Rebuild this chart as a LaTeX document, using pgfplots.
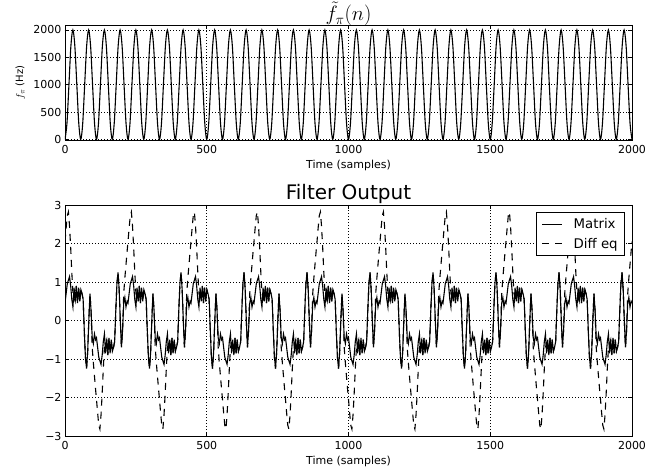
\documentclass[border=0pt]{standalone}
\usepackage{fontspec}
\setmainfont{DejaVu Sans}
\usepackage{pgfplots}
\usepackage{pgfplotstable}
\pgfplotsset{compat=1.18}
\begin{document}
\pgfplotstableread{
n m d
0 0.45 2.05
4 0.70 2.40
8 0.95 2.72
12 1.05 2.82
16 1.14 2.45
20 0.90 1.90
24 0.55 1.25
28 0.35 0.70
32 0.85 0.60
36 0.50 0.50
40 0.90 0.90
44 0.45 0.45
48 0.85 0.85
52 0.50 0.50
56 0.80 0.80
60 0.70 0.70
64 0.55 0.55
68 -0.25 -0.25
72 -0.95 -0.95
76 -1.25 -1.25
80 -0.80 -0.80
84 0.00 0.00
88 0.70 0.70
92 0.25 0.25
96 -0.45 -0.70
100 -0.60 -1.10
104 -0.35 -1.45
108 -0.50 -1.80
111.1 -0.45 -2.05
115.1 -0.70 -2.40
119.1 -0.95 -2.72
123.1 -1.05 -2.82
127.1 -1.14 -2.45
131.1 -0.90 -1.90
135.1 -0.55 -1.25
139.1 -0.35 -0.70
143.1 -0.85 -0.60
147.1 -0.50 -0.50
151.1 -0.90 -0.90
155.1 -0.45 -0.45
159.1 -0.85 -0.85
163.1 -0.50 -0.50
167.1 -0.80 -0.80
171.1 -0.70 -0.70
175.1 -0.55 -0.55
179.1 0.25 0.25
183.1 0.95 0.95
187.1 1.25 1.25
191.1 0.80 0.80
195.1 0.00 0.00
199.1 -0.70 -0.70
203.1 -0.25 -0.25
207.1 0.45 0.70
211.1 0.60 1.10
215.1 0.35 1.45
219.1 0.50 1.80
222.2 0.45 2.05
226.2 0.70 2.40
230.2 0.95 2.72
234.2 1.05 2.82
238.2 1.14 2.45
242.2 0.90 1.90
246.2 0.55 1.25
250.2 0.35 0.70
254.2 0.85 0.60
258.2 0.50 0.50
262.2 0.90 0.90
266.2 0.45 0.45
270.2 0.85 0.85
274.2 0.50 0.50
278.2 0.80 0.80
282.2 0.70 0.70
286.2 0.55 0.55
290.2 -0.25 -0.25
294.2 -0.95 -0.95
298.2 -1.25 -1.25
302.2 -0.80 -0.80
306.2 0.00 0.00
310.2 0.70 0.70
314.2 0.25 0.25
318.2 -0.45 -0.70
322.2 -0.60 -1.10
326.2 -0.35 -1.45
330.2 -0.50 -1.80
333.3 -0.45 -2.05
337.3 -0.70 -2.40
341.3 -0.95 -2.72
345.3 -1.05 -2.82
349.3 -1.14 -2.45
353.3 -0.90 -1.90
357.3 -0.55 -1.25
361.3 -0.35 -0.70
365.3 -0.85 -0.60
369.3 -0.50 -0.50
373.3 -0.90 -0.90
377.3 -0.45 -0.45
381.3 -0.85 -0.85
385.3 -0.50 -0.50
389.3 -0.80 -0.80
393.3 -0.70 -0.70
397.3 -0.55 -0.55
401.3 0.25 0.25
405.3 0.95 0.95
409.3 1.25 1.25
413.3 0.80 0.80
417.3 0.00 0.00
421.3 -0.70 -0.70
425.3 -0.25 -0.25
429.3 0.45 0.70
433.3 0.60 1.10
437.3 0.35 1.45
441.3 0.50 1.80
444.4 0.45 2.05
448.4 0.70 2.40
452.4 0.95 2.72
456.4 1.05 2.82
460.4 1.14 2.45
464.4 0.90 1.90
468.4 0.55 1.25
472.4 0.35 0.70
476.4 0.85 0.60
480.4 0.50 0.50
484.4 0.90 0.90
488.4 0.45 0.45
492.4 0.85 0.85
496.4 0.50 0.50
500.4 0.80 0.80
504.4 0.70 0.70
508.4 0.55 0.55
512.4 -0.25 -0.25
516.4 -0.95 -0.95
520.4 -1.25 -1.25
524.4 -0.80 -0.80
528.4 0.00 0.00
532.4 0.70 0.70
536.4 0.25 0.25
540.4 -0.45 -0.70
544.4 -0.60 -1.10
548.4 -0.35 -1.45
552.4 -0.50 -1.80
555.6 -0.45 -2.05
559.6 -0.70 -2.40
563.6 -0.95 -2.72
567.6 -1.05 -2.82
571.6 -1.14 -2.45
575.6 -0.90 -1.90
579.6 -0.55 -1.25
583.6 -0.35 -0.70
587.6 -0.85 -0.60
591.6 -0.50 -0.50
595.6 -0.90 -0.90
599.6 -0.45 -0.45
603.6 -0.85 -0.85
607.6 -0.50 -0.50
611.6 -0.80 -0.80
615.6 -0.70 -0.70
619.6 -0.55 -0.55
623.6 0.25 0.25
627.6 0.95 0.95
631.6 1.25 1.25
635.6 0.80 0.80
639.6 0.00 0.00
643.6 -0.70 -0.70
647.6 -0.25 -0.25
651.6 0.45 0.70
655.6 0.60 1.10
659.6 0.35 1.45
663.6 0.50 1.80
666.7 0.45 2.05
670.7 0.70 2.40
674.7 0.95 2.72
678.7 1.05 2.82
682.7 1.14 2.45
686.7 0.90 1.90
690.7 0.55 1.25
694.7 0.35 0.70
698.7 0.85 0.60
702.7 0.50 0.50
706.7 0.90 0.90
710.7 0.45 0.45
714.7 0.85 0.85
718.7 0.50 0.50
722.7 0.80 0.80
726.7 0.70 0.70
730.7 0.55 0.55
734.7 -0.25 -0.25
738.7 -0.95 -0.95
742.7 -1.25 -1.25
746.7 -0.80 -0.80
750.7 0.00 0.00
754.7 0.70 0.70
758.7 0.25 0.25
762.7 -0.45 -0.70
766.7 -0.60 -1.10
770.7 -0.35 -1.45
774.7 -0.50 -1.80
777.8 -0.45 -2.05
781.8 -0.70 -2.40
785.8 -0.95 -2.72
789.8 -1.05 -2.82
793.8 -1.14 -2.45
797.8 -0.90 -1.90
801.8 -0.55 -1.25
805.8 -0.35 -0.70
809.8 -0.85 -0.60
813.8 -0.50 -0.50
817.8 -0.90 -0.90
821.8 -0.45 -0.45
825.8 -0.85 -0.85
829.8 -0.50 -0.50
833.8 -0.80 -0.80
837.8 -0.70 -0.70
841.8 -0.55 -0.55
845.8 0.25 0.25
849.8 0.95 0.95
853.8 1.25 1.25
857.8 0.80 0.80
861.8 0.00 0.00
865.8 -0.70 -0.70
869.8 -0.25 -0.25
873.8 0.45 0.70
877.8 0.60 1.10
881.8 0.35 1.45
885.8 0.50 1.80
888.9 0.45 2.05
892.9 0.70 2.40
896.9 0.95 2.72
900.9 1.05 2.82
904.9 1.14 2.45
908.9 0.90 1.90
912.9 0.55 1.25
916.9 0.35 0.70
920.9 0.85 0.60
924.9 0.50 0.50
928.9 0.90 0.90
932.9 0.45 0.45
936.9 0.85 0.85
940.9 0.50 0.50
944.9 0.80 0.80
948.9 0.70 0.70
952.9 0.55 0.55
956.9 -0.25 -0.25
960.9 -0.95 -0.95
964.9 -1.25 -1.25
968.9 -0.80 -0.80
972.9 0.00 0.00
976.9 0.70 0.70
980.9 0.25 0.25
984.9 -0.45 -0.70
988.9 -0.60 -1.10
992.9 -0.35 -1.45
996.9 -0.50 -1.80
1000 -0.45 -2.05
1004 -0.70 -2.40
1008 -0.95 -2.72
1012 -1.05 -2.82
1016 -1.14 -2.45
1020 -0.90 -1.90
1024 -0.55 -1.25
1028 -0.35 -0.70
1032 -0.85 -0.60
1036 -0.50 -0.50
1040 -0.90 -0.90
1044 -0.45 -0.45
1048 -0.85 -0.85
1052 -0.50 -0.50
1056 -0.80 -0.80
1060 -0.70 -0.70
1064 -0.55 -0.55
1068 0.25 0.25
1072 0.95 0.95
1076 1.25 1.25
1080 0.80 0.80
1084 0.00 0.00
1088 -0.70 -0.70
1092 -0.25 -0.25
1096 0.45 0.70
1100 0.60 1.10
1104 0.35 1.45
1108 0.50 1.80
1111.1 0.45 2.05
1115.1 0.70 2.40
1119.1 0.95 2.72
1123.1 1.05 2.82
1127.1 1.14 2.45
1131.1 0.90 1.90
1135.1 0.55 1.25
1139.1 0.35 0.70
1143.1 0.85 0.60
1147.1 0.50 0.50
1151.1 0.90 0.90
1155.1 0.45 0.45
1159.1 0.85 0.85
1163.1 0.50 0.50
1167.1 0.80 0.80
1171.1 0.70 0.70
1175.1 0.55 0.55
1179.1 -0.25 -0.25
1183.1 -0.95 -0.95
1187.1 -1.25 -1.25
1191.1 -0.80 -0.80
1195.1 0.00 0.00
1199.1 0.70 0.70
1203.1 0.25 0.25
1207.1 -0.45 -0.70
1211.1 -0.60 -1.10
1215.1 -0.35 -1.45
1219.1 -0.50 -1.80
1222.2 -0.45 -2.05
1226.2 -0.70 -2.40
1230.2 -0.95 -2.72
1234.2 -1.05 -2.82
1238.2 -1.14 -2.45
1242.2 -0.90 -1.90
1246.2 -0.55 -1.25
1250.2 -0.35 -0.70
1254.2 -0.85 -0.60
1258.2 -0.50 -0.50
1262.2 -0.90 -0.90
1266.2 -0.45 -0.45
1270.2 -0.85 -0.85
1274.2 -0.50 -0.50
1278.2 -0.80 -0.80
1282.2 -0.70 -0.70
1286.2 -0.55 -0.55
1290.2 0.25 0.25
1294.2 0.95 0.95
1298.2 1.25 1.25
1302.2 0.80 0.80
1306.2 0.00 0.00
1310.2 -0.70 -0.70
1314.2 -0.25 -0.25
1318.2 0.45 0.70
1322.2 0.60 1.10
1326.2 0.35 1.45
1330.2 0.50 1.80
1333.3 0.45 2.05
1337.3 0.70 2.40
1341.3 0.95 2.72
1345.3 1.05 2.82
1349.3 1.14 2.45
1353.3 0.90 1.90
1357.3 0.55 1.25
1361.3 0.35 0.70
1365.3 0.85 0.60
1369.3 0.50 0.50
1373.3 0.90 0.90
1377.3 0.45 0.45
1381.3 0.85 0.85
1385.3 0.50 0.50
1389.3 0.80 0.80
1393.3 0.70 0.70
1397.3 0.55 0.55
1401.3 -0.25 -0.25
1405.3 -0.95 -0.95
1409.3 -1.25 -1.25
1413.3 -0.80 -0.80
1417.3 0.00 0.00
1421.3 0.70 0.70
1425.3 0.25 0.25
1429.3 -0.45 -0.70
1433.3 -0.60 -1.10
1437.3 -0.35 -1.45
1441.3 -0.50 -1.80
1444.4 -0.45 -2.05
1448.4 -0.70 -2.40
1452.4 -0.95 -2.72
1456.4 -1.05 -2.82
1460.4 -1.14 -2.45
1464.4 -0.90 -1.90
1468.4 -0.55 -1.25
1472.4 -0.35 -0.70
1476.4 -0.85 -0.60
1480.4 -0.50 -0.50
1484.4 -0.90 -0.90
1488.4 -0.45 -0.45
1492.4 -0.85 -0.85
1496.4 -0.50 -0.50
1500.4 -0.80 -0.80
1504.4 -0.70 -0.70
1508.4 -0.55 -0.55
1512.4 0.25 0.25
1516.4 0.95 0.95
1520.4 1.25 1.25
1524.4 0.80 0.80
1528.4 0.00 0.00
1532.4 -0.70 -0.70
1536.4 -0.25 -0.25
1540.4 0.45 0.70
1544.4 0.60 1.10
1548.4 0.35 1.45
1552.4 0.50 1.80
1555.6 0.45 2.05
1559.6 0.70 2.40
1563.6 0.95 2.72
1567.6 1.05 2.82
1571.6 1.14 2.45
1575.6 0.90 1.90
1579.6 0.55 1.25
1583.6 0.35 0.70
1587.6 0.85 0.60
1591.6 0.50 0.50
1595.6 0.90 0.90
1599.6 0.45 0.45
1603.6 0.85 0.85
1607.6 0.50 0.50
1611.6 0.80 0.80
1615.6 0.70 0.70
1619.6 0.55 0.55
1623.6 -0.25 -0.25
1627.6 -0.95 -0.95
1631.6 -1.25 -1.25
1635.6 -0.80 -0.80
1639.6 0.00 0.00
1643.6 0.70 0.70
1647.6 0.25 0.25
1651.6 -0.45 -0.70
1655.6 -0.60 -1.10
1659.6 -0.35 -1.45
1663.6 -0.50 -1.80
1666.7 -0.45 -2.05
1670.7 -0.70 -2.40
1674.7 -0.95 -2.72
1678.7 -1.05 -2.82
1682.7 -1.14 -2.45
1686.7 -0.90 -1.90
1690.7 -0.55 -1.25
1694.7 -0.35 -0.70
1698.7 -0.85 -0.60
1702.7 -0.50 -0.50
1706.7 -0.90 -0.90
1710.7 -0.45 -0.45
1714.7 -0.85 -0.85
1718.7 -0.50 -0.50
1722.7 -0.80 -0.80
1726.7 -0.70 -0.70
1730.7 -0.55 -0.55
1734.7 0.25 0.25
1738.7 0.95 0.95
1742.7 1.25 1.25
1746.7 0.80 0.80
1750.7 0.00 0.00
1754.7 -0.70 -0.70
1758.7 -0.25 -0.25
1762.7 0.45 0.70
1766.7 0.60 1.10
1770.7 0.35 1.45
1774.7 0.50 1.80
1777.8 0.45 2.05
1781.8 0.70 2.40
1785.8 0.95 2.72
1789.8 1.05 2.82
1793.8 1.14 2.45
1797.8 0.90 1.90
1801.8 0.55 1.25
1805.8 0.35 0.70
1809.8 0.85 0.60
1813.8 0.50 0.50
1817.8 0.90 0.90
1821.8 0.45 0.45
1825.8 0.85 0.85
1829.8 0.50 0.50
1833.8 0.80 0.80
1837.8 0.70 0.70
1841.8 0.55 0.55
1845.8 -0.25 -0.25
1849.8 -0.95 -0.95
1853.8 -1.25 -1.25
1857.8 -0.80 -0.80
1861.8 0.00 0.00
1865.8 0.70 0.70
1869.8 0.25 0.25
1873.8 -0.45 -0.70
1877.8 -0.60 -1.10
1881.8 -0.35 -1.45
1885.8 -0.50 -1.80
1888.9 -0.45 -2.05
1892.9 -0.70 -2.40
1896.9 -0.95 -2.72
1900.9 -1.05 -2.82
1904.9 -1.14 -2.45
1908.9 -0.90 -1.90
1912.9 -0.55 -1.25
1916.9 -0.35 -0.70
1920.9 -0.85 -0.60
1924.9 -0.50 -0.50
1928.9 -0.90 -0.90
1932.9 -0.45 -0.45
1936.9 -0.85 -0.85
1940.9 -0.50 -0.50
1944.9 -0.80 -0.80
1948.9 -0.70 -0.70
1952.9 -0.55 -0.55
1956.9 0.25 0.25
1960.9 0.95 0.95
1964.9 1.25 1.25
1968.9 0.80 0.80
1972.9 0.00 0.00
1976.9 -0.70 -0.70
1980.9 -0.25 -0.25
1984.9 0.45 0.70
1988.9 0.60 1.10
1992.9 0.35 1.45
1996.9 0.50 1.80
2000 0.45 2.05
}\filt
\begin{tikzpicture}
\path[use as bounding box] (0pt,0pt) rectangle (669pt,476pt);
\pgfplotsset{
  every axis title shift=0pt,
  common/.style={
    scale only axis, width=567pt, anchor=south west,
    xmin=0, xmax=2000,
    xtick={0,500,1000,1500,2000}, xticklabels={0,500,1000,1500,2000},
    grid=major, grid style={black, line width=0.6pt, dash pattern=on 0.6pt off 2.4pt},
    axis line style={line width=0.9pt}, tick style={black, line width=0.6pt},
    major tick length=4pt,
    tick label style={font=\fontsize{11}{13}\selectfont},
    xticklabel style={yshift=-2pt},
    xlabel={Time (samples)},
  }
}
\begin{axis}[common, at={(65pt,336pt)}, height=115pt,
  ymin=-10, ymax=2090,
  ytick={0,500,1000,1500,2000}, yticklabels={0,500,1000,1500,2000},
  xlabel style={font=\fontsize{11}{13}\selectfont, at={(axis description cs:0.5,-0.174)}, anchor=north, inner sep=0pt},
  ylabel={$f_\pi$ (Hz)},
  ylabel style={font=\fontsize{10}{12}\selectfont, at={(axis description cs:-0.079,0.5)}, anchor=center, inner sep=0pt},
  title={$\tilde{f}_\pi(n)$},
  title style={font=\fontsize{20}{24}\selectfont, at={(axis description cs:0.5,1)}, anchor=base, yshift=4pt, inner sep=0pt},
]
\addplot[black, line width=1.1pt, smooth] coordinates {
(0,0)(6.9,292.9)(13.9,1000)(20.8,1707.1)(27.8,2000)(34.7,1707.1)(41.7,1000)(48.6,292.9)
(55.6,0)(62.5,292.9)(69.4,1000)(76.4,1707.1)(83.3,2000)(90.3,1707.1)(97.2,1000)(104.2,292.9)
(111.1,0)(118.1,292.9)(125.0,1000)(131.9,1707.1)(138.9,2000)(145.8,1707.1)(152.8,1000)(159.7,292.9)
(166.7,0)(173.6,292.9)(180.6,1000)(187.5,1707.1)(194.4,2000)(201.4,1707.1)(208.3,1000)(215.3,292.9)
(222.2,0)(229.2,292.9)(236.1,1000)(243.1,1707.1)(250.0,2000)(256.9,1707.1)(263.9,1000)(270.8,292.9)
(277.8,0)(284.7,292.9)(291.7,1000)(298.6,1707.1)(305.6,2000)(312.5,1707.1)(319.4,1000)(326.4,292.9)
(333.3,0)(340.3,292.9)(347.2,1000)(354.2,1707.1)(361.1,2000)(368.1,1707.1)(375.0,1000)(381.9,292.9)
(388.9,0)(395.8,292.9)(402.8,1000)(409.7,1707.1)(416.7,2000)(423.6,1707.1)(430.6,1000)(437.5,292.9)
(444.4,0)(451.4,292.9)(458.3,1000)(465.3,1707.1)(472.2,2000)(479.2,1707.1)(486.1,1000)(493.1,292.9)
(500,0)(506.9,292.9)(513.9,1000)(520.8,1707.1)(527.8,2000)(534.7,1707.1)(541.7,1000)(548.6,292.9)
(555.6,0)(562.5,292.9)(569.4,1000)(576.4,1707.1)(583.3,2000)(590.3,1707.1)(597.2,1000)(604.2,292.9)
(611.1,0)(618.1,292.9)(625.0,1000)(631.9,1707.1)(638.9,2000)(645.8,1707.1)(652.8,1000)(659.7,292.9)
(666.7,0)(673.6,292.9)(680.6,1000)(687.5,1707.1)(694.4,2000)(701.4,1707.1)(708.3,1000)(715.3,292.9)
(722.2,0)(729.2,292.9)(736.1,1000)(743.1,1707.1)(750.0,2000)(756.9,1707.1)(763.9,1000)(770.8,292.9)
(777.8,0)(784.7,292.9)(791.7,1000)(798.6,1707.1)(805.6,2000)(812.5,1707.1)(819.4,1000)(826.4,292.9)
(833.3,0)(840.3,292.9)(847.2,1000)(854.2,1707.1)(861.1,2000)(868.1,1707.1)(875.0,1000)(881.9,292.9)
(888.9,0)(895.8,292.9)(902.8,1000)(909.7,1707.1)(916.7,2000)(923.6,1707.1)(930.6,1000)(937.5,292.9)
(944.4,0)(951.4,292.9)(958.3,1000)(965.3,1707.1)(972.2,2000)(979.2,1707.1)(986.1,1000)(993.1,292.9)
(1000,0)(1006.9,292.9)(1013.9,1000)(1020.8,1707.1)(1027.8,2000)(1034.7,1707.1)(1041.7,1000)(1048.6,292.9)
(1055.6,0)(1062.5,292.9)(1069.4,1000)(1076.4,1707.1)(1083.3,2000)(1090.3,1707.1)(1097.2,1000)(1104.2,292.9)
(1111.1,0)(1118.1,292.9)(1125.0,1000)(1131.9,1707.1)(1138.9,2000)(1145.8,1707.1)(1152.8,1000)(1159.7,292.9)
(1166.7,0)(1173.6,292.9)(1180.6,1000)(1187.5,1707.1)(1194.4,2000)(1201.4,1707.1)(1208.3,1000)(1215.3,292.9)
(1222.2,0)(1229.2,292.9)(1236.1,1000)(1243.1,1707.1)(1250.0,2000)(1256.9,1707.1)(1263.9,1000)(1270.8,292.9)
(1277.8,0)(1284.7,292.9)(1291.7,1000)(1298.6,1707.1)(1305.6,2000)(1312.5,1707.1)(1319.4,1000)(1326.4,292.9)
(1333.3,0)(1340.3,292.9)(1347.2,1000)(1354.2,1707.1)(1361.1,2000)(1368.1,1707.1)(1375.0,1000)(1381.9,292.9)
(1388.9,0)(1395.8,292.9)(1402.8,1000)(1409.7,1707.1)(1416.7,2000)(1423.6,1707.1)(1430.6,1000)(1437.5,292.9)
(1444.4,0)(1451.4,292.9)(1458.3,1000)(1465.3,1707.1)(1472.2,2000)(1479.2,1707.1)(1486.1,1000)(1493.1,292.9)
(1500,0)(1506.9,292.9)(1513.9,1000)(1520.8,1707.1)(1527.8,2000)(1534.7,1707.1)(1541.7,1000)(1548.6,292.9)
(1555.6,0)(1562.5,292.9)(1569.4,1000)(1576.4,1707.1)(1583.3,2000)(1590.3,1707.1)(1597.2,1000)(1604.2,292.9)
(1611.1,0)(1618.1,292.9)(1625.0,1000)(1631.9,1707.1)(1638.9,2000)(1645.8,1707.1)(1652.8,1000)(1659.7,292.9)
(1666.7,0)(1673.6,292.9)(1680.6,1000)(1687.5,1707.1)(1694.4,2000)(1701.4,1707.1)(1708.3,1000)(1715.3,292.9)
(1722.2,0)(1729.2,292.9)(1736.1,1000)(1743.1,1707.1)(1750.0,2000)(1756.9,1707.1)(1763.9,1000)(1770.8,292.9)
(1777.8,0)(1784.7,292.9)(1791.7,1000)(1798.6,1707.1)(1805.6,2000)(1812.5,1707.1)(1819.4,1000)(1826.4,292.9)
(1833.3,0)(1840.3,292.9)(1847.2,1000)(1854.2,1707.1)(1861.1,2000)(1868.1,1707.1)(1875.0,1000)(1881.9,292.9)
(1888.9,0)(1895.8,292.9)(1902.8,1000)(1909.7,1707.1)(1916.7,2000)(1923.6,1707.1)(1930.6,1000)(1937.5,292.9)
(1944.4,0)(1951.4,292.9)(1958.3,1000)(1965.3,1707.1)(1972.2,2000)(1979.2,1707.1)(1986.1,1000)(1993.1,292.9)
(2000,0)
};
\end{axis}
\begin{axis}[common, at={(65pt,40pt)}, height=231pt,
  ymin=-3, ymax=3,
  ytick={-3,-2,-1,0,1,2,3}, yticklabels={−3,−2,−1,0,1,2,3},
  xlabel style={font=\fontsize{11}{13}\selectfont, at={(axis description cs:0.5,-0.0866)}, anchor=north, inner sep=0pt},
  title={Filter Output},
  title style={font=\fontsize{20}{24}\selectfont, at={(axis description cs:0.5,1)}, anchor=base, yshift=5pt, inner sep=0pt},
  legend style={at={(axis description cs:0.9877,0.9697)}, anchor=north east, draw=black, line width=0.7pt, fill=white,
    font=\fontsize{13.3}{15}\selectfont, inner xsep=5pt, inner ysep=4pt, row sep=4pt,
    /tikz/every odd column/.append style={column sep=9pt}},
  legend cell align=left,
  legend image code/.code={\draw[#1] (0pt,0pt) -- (20pt,0pt);},
]
\addplot[black, line width=1.1pt] table[x=n,y=m]{\filt};
\addlegendentry{Matrix}
\addplot[black, line width=1.1pt, dash pattern=on 7pt off 6pt] table[x=n,y=d]{\filt};
\addlegendentry{Diff eq}
\end{axis}
\end{tikzpicture}
\end{document}
